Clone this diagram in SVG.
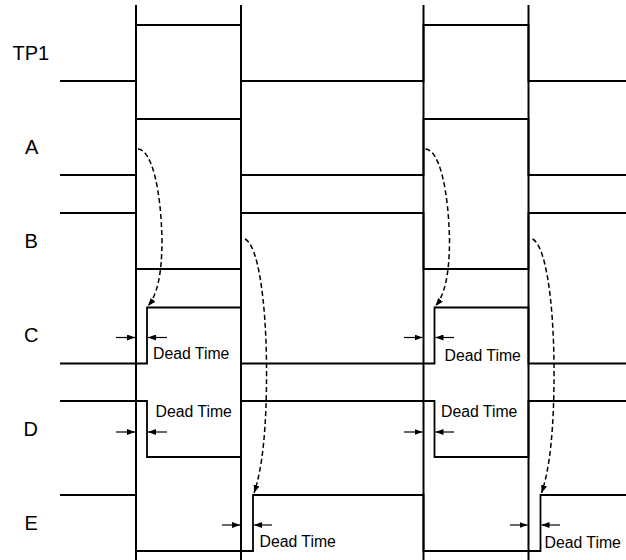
<svg xmlns="http://www.w3.org/2000/svg" width="626" height="560" viewBox="0 0 626 560">
<style>
.bg{fill:#ffffff}
.guide{stroke:#000;stroke-width:2;fill:none}
.wave{stroke:#000;stroke-width:1.8;fill:none;stroke-linejoin:miter}
.lbl{font-family:"Liberation Sans",Arial,sans-serif;font-size:20px;fill:#000}
.dt{font-family:"Liberation Sans",Arial,sans-serif;font-size:15.8px;fill:#000}
.dim{stroke:#000;stroke-width:1.2;fill:none;marker-end:url(#ah)}
.dash{stroke:#000;stroke-width:1.5;fill:none;stroke-dasharray:5 3;marker-end:url(#ah2)}
</style>
<defs>
<marker id="ah" viewBox="0 0 8 6" refX="8" refY="3" markerWidth="8" markerHeight="6" markerUnits="userSpaceOnUse" orient="auto">
<path d="M0,0 L8,3 L0,6 z" fill="#000"/>
</marker>
<marker id="ah2" viewBox="0 0 8 6" refX="8" refY="3" markerWidth="8" markerHeight="6" markerUnits="userSpaceOnUse" orient="auto">
<path d="M0,0 L8,3 L0,6 z" fill="#000"/>
</marker>
</defs>
<rect class="bg" x="0" y="0" width="626" height="560"/>
<g id="guides">
<line class="guide" x1="136" y1="5" x2="136" y2="560"/>
<line class="guide" x1="241" y1="5" x2="241" y2="560"/>
<line class="guide" x1="423.5" y1="5" x2="423.5" y2="560"/>
<line class="guide" x1="528.5" y1="5" x2="528.5" y2="560"/>
</g>
<g id="TP1">
<text class="lbl" x="12.5" y="60">TP1</text>
<path class="wave" d="M60,81 H136 V25 H241 V81 H423.5 V25 H528.5 V81 H626"/>
</g>
<g id="A">
<text class="lbl" x="25" y="154">A</text>
<path class="wave" d="M60,175 H136 V119 H241 V175 H423.5 V119 H528.5 V175 H626"/>
</g>
<g id="B">
<text class="lbl" x="24.5" y="248">B</text>
<path class="wave" d="M60,213 H136 V269 H241 V213 H423.5 V269 H528.5 V213 H626"/>
</g>
<g id="C">
<text class="lbl" x="24" y="341.5">C</text>
<path class="wave" d="M60,363.5 H147 V307.5 H241 V363.5 H434.5 V307.5 H528.5 V363.5 H626"/>
<text class="dt" x="153" y="359">Dead Time</text>
<text class="dt" x="444.5" y="360.5">Dead Time</text>
</g>
<g id="D">
<text class="lbl" x="23.5" y="436">D</text>
<path class="wave" d="M60,401 H147 V457 H241 V401 H434.5 V457 H528.5 V401 H626"/>
<text class="dt" x="155.5" y="416.5">Dead Time</text>
<text class="dt" x="441" y="416.5">Dead Time</text>
</g>
<g id="E">
<text class="lbl" x="24.5" y="530">E</text>
<path class="wave" d="M60,495 H136 V551 H253 V495 H423.5 V551 H540.5 V495 H626"/>
<text class="dt" x="259.5" y="546.5">Dead Time</text>
<text class="dt" x="544.5" y="547.5">Dead Time</text>
</g>
<g id="connectors">
<path class="dash" d="M138,149 C152,150 161,190 162,240 C162,275 157,295 148,306"/>
<path class="dash" d="M245,239 C258,245 266,300 266.5,365 C267,430 262,470 254,493"/>
<path class="dash" d="M425.5,149 C439.5,150 448.5,190 449.5,240 C449.5,275 444.5,295 435.5,306"/>
<path class="dash" d="M532.5,239 C545.5,245 553.5,300 554,365 C554.5,430 549.5,470 541.5,493"/>
<line class="dim" x1="116" y1="337.5" x2="135" y2="337.5"/>
<line class="dim" x1="167" y1="337.5" x2="148" y2="337.5"/>
<line class="dim" x1="116" y1="432" x2="135" y2="432"/>
<line class="dim" x1="167" y1="432" x2="148" y2="432"/>
<line class="dim" x1="222" y1="525" x2="240" y2="525"/>
<line class="dim" x1="272" y1="525" x2="254" y2="525"/>
<line class="dim" x1="404" y1="337.5" x2="422.5" y2="337.5"/>
<line class="dim" x1="454" y1="337.5" x2="435.5" y2="337.5"/>
<line class="dim" x1="404" y1="432" x2="422.5" y2="432"/>
<line class="dim" x1="454" y1="432" x2="435.5" y2="432"/>
<line class="dim" x1="510" y1="525" x2="527.5" y2="525"/>
<line class="dim" x1="560" y1="525" x2="541.5" y2="525"/>
</g>
</svg>
